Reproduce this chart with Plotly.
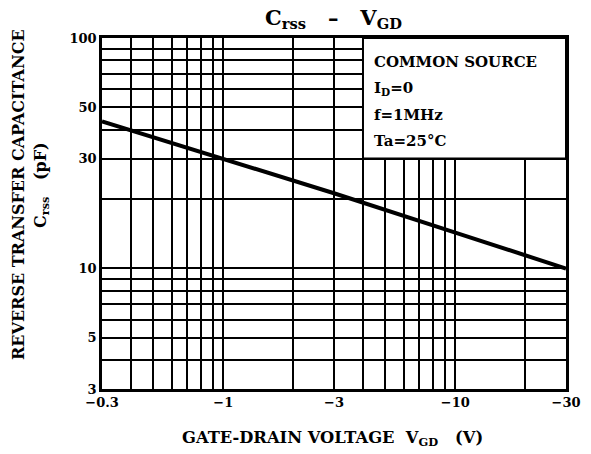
import math
import plotly.graph_objects as go

# Data (gate-drain voltage in V, reverse transfer capacitance in pF)
vgd = [-0.3, -1, -3, -10, -30]
crss = [43.5, 30, 21.2, 14.3, 10]

# Axis tick definitions
x_grid = [0.3, 0.4, 0.5, 0.6, 0.7, 0.8, 0.9, 1, 2, 3, 4, 5, 6, 7, 8, 9, 10, 20, 30]
x_labels = {0.3: "\u22120.3", 1: "\u22121", 3: "\u22123", 10: "\u221210", 30: "\u221230"}
y_grid = [3, 4, 5, 6, 7, 8, 9, 10, 20, 30, 40, 50, 60, 70, 80, 90, 100]
y_labels = {3: "3", 5: "5", 10: "10", 30: "30", 50: "50", 100: "100"}

FONT = "DejaVu Serif"
L, R, T, B = 102, 25, 38, 65
W, H = 591, 454
pw, ph = W - L - R, H - T - B


def f(size):
    return dict(family=FONT, size=size, color="black", weight="bold")


fig = go.Figure()
fig.add_trace(go.Scatter(
    x=[-v for v in vgd], y=crss, mode="lines",
    line=dict(color="black", width=4), showlegend=False, hoverinfo="skip"))

xr = [math.log10(0.3), math.log10(30)]
yr = [math.log10(3), math.log10(100)]

fig.update_layout(
    width=W, height=H,
    margin=dict(l=L, r=R, t=T, b=B),
    paper_bgcolor="white", plot_bgcolor="white",
    font=dict(family=FONT, color="black"),
    xaxis=dict(type="log", range=xr, tickmode="array", tickvals=x_grid,
               ticktext=[x_labels.get(v, "") for v in x_grid],
               showgrid=True, gridcolor="black", gridwidth=1.7,
               showline=True, linecolor="black", linewidth=2.5, mirror=True,
               ticks="", tickfont=f(13), zeroline=False),
    yaxis=dict(type="log", range=yr, tickmode="array", tickvals=y_grid,
               ticktext=[y_labels.get(v, "") for v in y_grid],
               showgrid=True, gridcolor="black", gridwidth=1.7,
               showline=True, linecolor="black", linewidth=2.5, mirror=True,
               ticks="", tickfont=f(13), zeroline=False),
)

# condition box (covers grid in upper right)
bx0 = (math.log10(4) - xr[0]) / (xr[1] - xr[0])
by0 = (math.log10(30) - yr[0]) / (yr[1] - yr[0])
fig.add_shape(type="rect", xref="paper", yref="paper", x0=bx0, x1=1, y0=by0, y1=1,
              fillcolor="white", line=dict(color="black", width=2), layer="above")

cond = ["COMMON SOURCE", "I<sub>D</sub>=0", "f=1MHz", "Ta=25\u00b0C"]
cond_y = [62, 88, 115, 141]
for t, py in zip(cond, cond_y):
    fig.add_annotation(text=t, xref="paper", yref="paper",
                       x=(372 - L) / pw, y=(H - B - py) / ph,
                       xanchor="left", yanchor="middle", showarrow=False, font=f(15))

# title
fig.add_annotation(text="C<sub>rss</sub>   \u2013   V<sub>GD</sub>", xref="paper", yref="paper",
                   x=(333 - L) / pw, y=(H - B - 18) / ph, xanchor="center", yanchor="middle",
                   showarrow=False, font=f(21))

# x title
fig.add_annotation(text="GATE-DRAIN VOLTAGE  V<sub>GD</sub>   (V)", xref="paper", yref="paper",
                   x=(332 - L) / pw, y=(H - B - 438) / ph, xanchor="center", yanchor="middle",
                   showarrow=False, font=f(16.3))

# y title (two lines)
fig.add_annotation(text="REVERSE TRANSFER CAPACITANCE", xref="paper", yref="paper",
                   x=(18 - L) / pw, y=(H - B - 195) / ph, xanchor="center", yanchor="middle",
                   textangle=-90, showarrow=False, font=f(16))
fig.add_annotation(text="C<sub>rss</sub>   (pF)", xref="paper", yref="paper",
                   x=(42 - L) / pw, y=(H - B - 185) / ph, xanchor="center", yanchor="middle",
                   textangle=-90, showarrow=False, font=f(16))

fig.write_html("out.html", config={"displayModeBar": False},
               post_script="document.body.style.margin='0';")
